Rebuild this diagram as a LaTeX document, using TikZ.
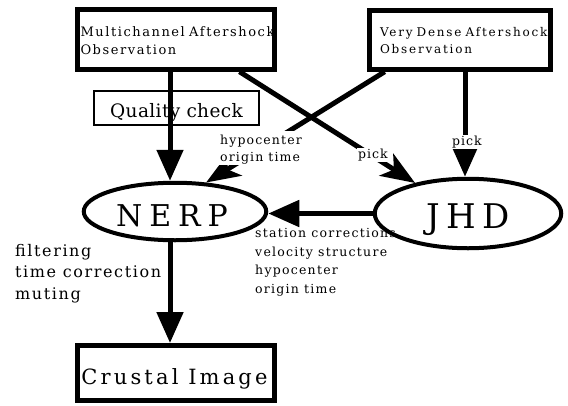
\documentclass[tikz,border=0pt]{standalone}
\usepackage{fontspec}
\setmainfont{DejaVu Serif}
\usetikzlibrary{arrows.meta,shapes.geometric}
\newcommand\lsp[1]{\addfontfeatures{LetterSpace=#1}}
\newcommand\fs[2]{\fontsize{#1}{#2}\selectfont}
\begin{document}
\begin{tikzpicture}[x=1pt,y=-1pt,
  obsbox/.style={draw,line width=5pt,rectangle,inner ysep=0pt,align=left},
  qbox/.style={draw,line width=2pt,rectangle,inner sep=0pt},
  proc/.style={draw,line width=4pt,ellipse,inner sep=0pt},
  flow/.style={line width=5pt,-{Triangle[length=31pt,width=26pt]}},
  dflow/.style={line width=5pt,-{Stealth[length=34pt,width=26pt,inset=9pt]}},
  lbl/.style={inner sep=0pt,align=left},
  lblw/.style={lbl,fill=white,inner sep=1pt},
]
\useasboundingbox (0,0) rectangle (568,405);
\fill[white] (0,0) rectangle (568,405);

% boxes
\node[obsbox, minimum width=197pt, minimum height=60pt, inner xsep=3pt, text width=191pt,
      font={\fs{13}{18}\lsp{12}}] (m1) at (176,39.2)
  {\rule{0pt}{17.3pt}\mbox{Multichannel Aftershock}\\\mbox{Observation}\rule[-4pt]{0pt}{0pt}};
\node[obsbox, minimum width=181.3pt, minimum height=58.4pt, inner xsep=10.8pt, text width=159.7pt,
      font={\fs{12}{16.7}\lsp{15}}] (m2) at (459.9,40)
  {\rule{0pt}{14pt}\mbox{Very Dense Aftershock}\\\mbox{Observation}\rule[-4pt]{0pt}{0pt}};
\node[qbox, minimum width=165pt, minimum height=34pt, text height=22pt, text depth=4pt,
      font={\fs{18.5}{24}\lsp{2}}] (qc) at (176.5,108) {Quality check};
\node[proc, minimum width=182.5pt, minimum height=57.5pt, text height=32pt, text depth=1.6pt,
      font={\fs{30}{40}\lsp{23}}] (nerp) at (175,211.5) {\kern-6pt NERP};
\node[proc, minimum width=186.5pt, minimum height=69.5pt, text height=30pt, text depth=1pt,
      font={\fs{34}{44}\lsp{18}}] (jhd) at (468,213.5) {JHD};
\node[obsbox, minimum width=197pt, minimum height=55pt, text height=24pt, text depth=2pt,
      font={\fs{21}{29}\lsp{15}}] (crust) at (176,373) {\kern-3pt Crustal Image};

% connectors
\coordinate (ax) at (170,0);
\coordinate (bx) at (465,0);
\draw[flow] (m1.south -| ax) -- (nerp.north -| ax);
\draw[dflow] ([xshift=-37.5pt]m1.south east) -- (jhd.150);
\draw[dflow] ([xshift=18pt]m2.south west) -- (nerp.43);
\draw[flow] (m2.south -| bx) -- (jhd.north -| bx);
\draw[flow] (jhd.west) -- (jhd.west -| nerp.east);
\draw[flow] (nerp.south -| ax) -- (crust.north -| ax);

% labels
\node[lblw, anchor=north west, font={\fs{12.5}{17.4}\lsp{9}}] (lhyp) at (219,131)
  {\rule{0pt}{12pt}hypocenter\\origin time};
\node[lblw, anchor=base west, font={\fs{12.5}{17}\lsp{8}}] (lpick1) at (357,158) {pick};
\node[lblw, anchor=base west, font={\fs{12.5}{17}\lsp{8}}] (lpick2) at (451,145) {pick};
\node[lbl, anchor=north west, font={\fs{12.5}{18.5}\lsp{10}}] (lsta) at (255,225.5)
  {\rule{0pt}{12pt}station corrections\\velocity structure\\hypocenter\\origin time};
\node[lbl, anchor=north west, font={\fs{16}{21.5}\lsp{10}}] (lfilt) at (15,240)
  {\rule{0pt}{16pt}filtering\\time correction\\muting};
\end{tikzpicture}
\end{document}
